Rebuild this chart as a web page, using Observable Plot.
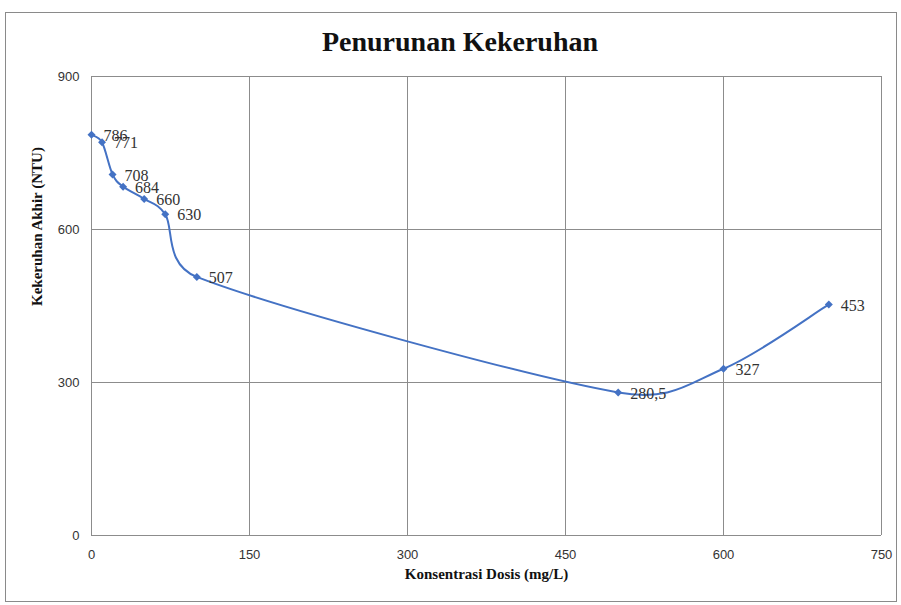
<!DOCTYPE html>
<html>
<head>
<meta charset="utf-8">
<script src="https://cdn.jsdelivr.net/npm/d3@7"></script>
<script src="https://cdn.jsdelivr.net/npm/@observablehq/plot@0.6"></script>
<style>
  html, body { margin: 0; padding: 0; background: #fff; }
  #wrap { position: relative; width: 901px; height: 605px; overflow: hidden; }
  #frame { position: absolute; left: 5px; top: 12px; width: 892px; height: 590px; border: 1.5px solid #8a8a8a; box-sizing: border-box; }
  #title { position: absolute; left: 0; width: 920px; top: 26px; text-align: center;
           font-family: "Liberation Serif", "Times New Roman", serif; font-weight: bold; font-size: 28px; color: #111; }
  #chart { position: absolute; left: 0; top: 0; }
</style>
</head>
<body>
<div id="wrap">
  <div id="frame"></div>
  <div id="chart"></div>
  <div id="title">Penurunan Kekeruhan</div>
</div>
<script>
const dosis = [0, 10, 20, 30, 50, 70, 100, 500, 600, 700];
const kekeruhan = [786, 771, 708, 684, 660, 630, 507, 280.5, 327, 453];
const labels = ["786", "771", "708", "684", "660", "630", "507", "280,5", "327", "453"];
const xTicks = [0, 150, 300, 450, 600, 750];
const yTicks = [0, 300, 600, 900];
const xTitle = "Konsentrasi Dosis (mg/L)";
const yTitle = "Kekeruhan Akhir (NTU)";

const data = dosis.map((d, i) => ({x: d, y: kekeruhan[i], label: labels[i]}));
const blue = "#4472c4";
const tickFont = '"Liberation Sans Narrow", "Arial Narrow", "Liberation Sans", sans-serif';
const serif = '"Liberation Serif", "Times New Roman", serif';

// Spreadsheet-style smoothed line: cubic Bezier with tangents (P[i+1]-P[i-1])/6,
// clamped so a control point never reaches beyond half of its own segment.
function curveSmoothSheet(context) {
  let pts = [];
  return {
    areaStart() {}, areaEnd() {},
    lineStart() { pts = []; },
    point(x, y) { pts.push([+x, +y]); },
    lineEnd() {
      const n = pts.length;
      if (!n) return;
      context.moveTo(pts[0][0], pts[0][1]);
      if (n === 1) return;
      const tan = pts.map((p, i) => {
        const a = pts[Math.max(0, i - 1)], b = pts[Math.min(n - 1, i + 1)];
        return [(b[0] - a[0]) / 6, (b[1] - a[1]) / 6];
      });
      const clamp = (t, p, q) => {
        const len = Math.hypot(t[0], t[1]);
        const seg = Math.hypot(q[0] - p[0], q[1] - p[1]) * 0.5;
        const s = len > seg && len > 0 ? seg / len : 1;
        return [t[0] * s, t[1] * s];
      };
      for (let i = 0; i < n - 1; i++) {
        const p = pts[i], q = pts[i + 1];
        const t0 = clamp(tan[i], p, q), t1 = clamp(tan[i + 1], p, q);
        context.bezierCurveTo(p[0] + t0[0], p[1] + t0[1], q[0] - t1[0], q[1] - t1[1], q[0], q[1]);
      }
    }
  };
}

const plot = Plot.plot({
  width: 901,
  height: 605,
  marginLeft: 91,
  marginRight: 20,
  marginTop: 76,
  marginBottom: 70,
  style: {background: "transparent", overflow: "visible"},
  x: {domain: [0, 750]},
  y: {domain: [0, 900]},
  marks: [
    Plot.gridX(xTicks, {stroke: "#8c8c8c", strokeOpacity: 1, strokeWidth: 1}),
    Plot.gridY(yTicks, {stroke: "#8c8c8c", strokeOpacity: 1, strokeWidth: 1}),
    Plot.axisX({ticks: xTicks, tickSize: 0, tickPadding: 14, label: null,
      fontSize: 13, fontFamily: tickFont, fill: "#333"}),
    Plot.axisY({ticks: yTicks, tickSize: 0, tickPadding: 12, label: null,
      fontSize: 13, fontFamily: tickFont, fill: "#333"}),
    Plot.line(data, {x: "x", y: "y", stroke: blue, strokeWidth: 2, curve: curveSmoothSheet}),
    Plot.dot(data, {x: "x", y: "y", symbol: "diamond2", r: 3.6, fill: blue, stroke: "none"}),
    Plot.text(data, {x: "x", y: "y", text: "label", textAnchor: "start", dx: 12, dy: 1,
      fontSize: 16, fontFamily: serif, fill: "#333"}),
    Plot.text([xTitle], {text: d => d, frameAnchor: "bottom", dy: 43,
      fontSize: 15, fontWeight: "bold", fontFamily: serif, fill: "#111"}),
    Plot.text([yTitle], {text: d => d, frameAnchor: "left", dx: -54, rotate: -90,
      fontSize: 15, fontWeight: "bold", fontFamily: serif, fill: "#111"})
  ]
});
document.getElementById("chart").appendChild(plot);
</script>
</body>
</html>
